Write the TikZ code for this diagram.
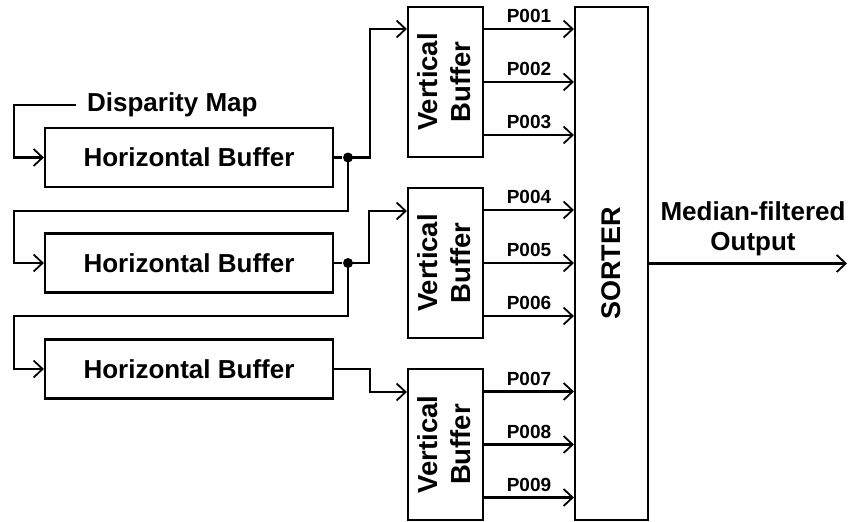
\documentclass[tikz,border=0pt]{standalone}
\usepackage{fontspec}
\setmainfont{Liberation Sans}
\usetikzlibrary{arrows.meta}
\begin{document}
\begin{tikzpicture}[x=1pt,y=-1pt, line width=2.2pt,
  arr/.style={-{Straight Barb[length=9pt,width=17pt,line width=1.8pt]}},
  bigtxt/.style={font=\fontsize{26}{31}\selectfont\bfseries},
  hbox/.style={draw, bigtxt, minimum width=288pt, minimum height=59pt, inner sep=0pt},
  vbox/.style={draw, minimum width=75pt, minimum height=150pt, inner sep=0pt},
  vtxt/.style={rotate=90, align=center, font=\fontsize{27.5}{33}\selectfont\bfseries},
  plbl/.style={above=3pt, inner sep=2pt, font=\fontsize{19}{22}\selectfont\bfseries},
  jdot/.style={circle, fill, inner sep=0pt, minimum size=10pt}]
\useasboundingbox (0,0) rectangle (854,522);

% horizontal buffers
\node[hbox] (hb1) at (189,157.5) {Horizontal Buffer};
\node[hbox] (hb2) at (189,263) {Horizontal Buffer};
\node[hbox] (hb3) at (189,369) {Horizontal Buffer};

% vertical buffers
\node[vbox] (vb1) at (445.5,82) {};
\node[vbox] (vb2) at (445.5,263) {};
\node[vbox, minimum height=151pt] (vb3) at (445.5,444.5) {};
\foreach \v in {vb1,vb2,vb3}
  \node[vtxt] at ([xshift=-1.5pt]\v.center) {Vertical\\Buffer};

% sorter
\node[draw, minimum width=73pt, minimum height=513pt, inner sep=0pt] (sorter) at (611.5,263.5) {};
\node[rotate=90, font=\fontsize{27}{31}\selectfont\bfseries] at (sorter.center) {SORTER};

% disparity map input
\node[bigtxt, anchor=west, inner sep=0pt, inner xsep=10pt] (dm) at (76,105) {Disparity Map};
\coordinate (c1) at (14,105);
\draw[arr] (dm.west) -- (c1) |- (hb1.west);

% junctions
\node[jdot] (j1) at (348,157.5) {};
\node[jdot] (j2) at (348,263) {};
\draw (hb1.east) -- (j1);
\draw (hb2.east) -- (j2);

% inputs to vertical buffers
\coordinate (v1in) at ([yshift=53pt]vb1.west);
\coordinate (v2in) at ([yshift=52pt]vb2.west);
\coordinate (v3in) at ([yshift=52.5pt]vb3.west);
\draw[arr] (j1.center) -- (370,157.5) |- (v1in);
\draw[arr] (j2.center) -- (369,263) |- (v2in);
\draw[arr] (hb3.east) -- (370,369) |- (v3in);

% cascade to next horizontal buffer
\coordinate (c2) at (14,211);
\coordinate (c3) at (14,316);
\draw[arr] (j1.center) |- (c2) |- (hb2.west);
\draw[arr] (j2.center) |- (c3) |- (hb3.west);

% pixel outputs
\foreach \v/\a/\b/\c in {vb1/P001/P002/P003, vb2/P004/P005/P006, vb3/P007/P008/P009}{
  \coordinate (pa) at ([yshift=53pt]\v.east);
  \coordinate (pb) at (\v.east);
  \coordinate (pc) at ([yshift=-53pt]\v.east);
  \draw[arr] (pa) -- (pa -| sorter.west) node[midway, plbl] {\a};
  \draw[arr] (pb) -- (pb -| sorter.west) node[midway, plbl] {\b};
  \draw[arr] (pc) -- (pc -| sorter.west) node[midway, plbl] {\c};
}

% output
\coordinate (out) at (847,263.5);
\draw[arr] (sorter.east) -- (out);
\node[bigtxt, align=center, font=\fontsize{26}{30}\selectfont\bfseries] (outlbl) at (753,229) {Median-filtered\\Output};
\end{tikzpicture}
\end{document}
